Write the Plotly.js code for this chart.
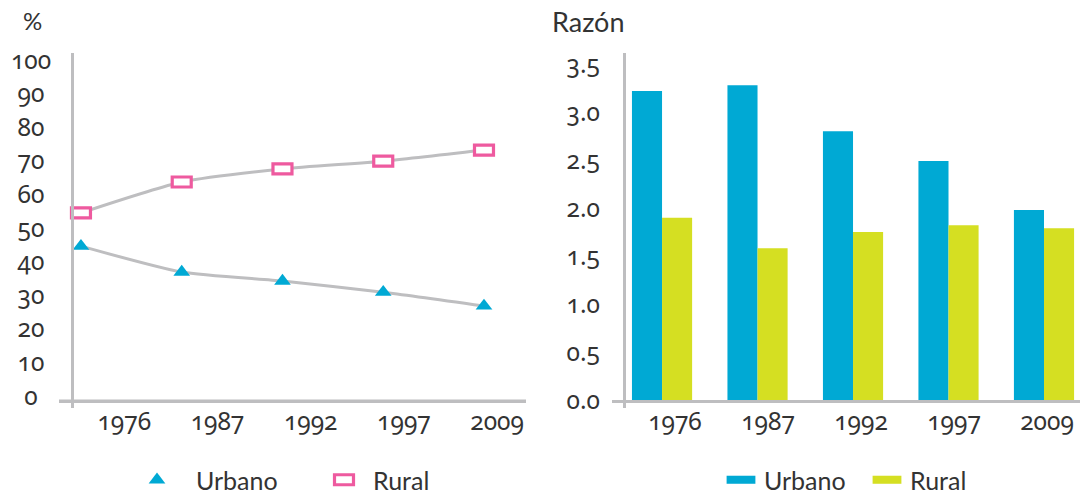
<!DOCTYPE html>
<html>
<head>
<meta charset="utf-8">
<script src="https://cdn.plot.ly/plotly-3.0.1.min.js"></script>
<style>
  html, body { margin: 0; padding: 0; background: #fff; }
  #chart { width: 1083px; height: 495px; }
  #chart text { font-variant-numeric: oldstyle-nums; font-feature-settings: "onum" 1; }
</style>
</head>
<body>
<div id="chart"></div>
<script>
// ---- data ----
const years = ['1976', '1987', '1992', '1997', '2009'];
const urbanoPct = [45.5, 37.8, 35.1, 31.8, 27.7];
const ruralPct = [55.4, 64.6, 68.5, 70.8, 74.1];
const urbanoRazon = [3.22, 3.28, 2.80, 2.49, 1.98];
const ruralRazon = [1.90, 1.58, 1.75, 1.82, 1.79];
const pctTicks = [0, 10, 20, 30, 40, 50, 60, 70, 80, 90, 100];
const razonTicks = [0, 0.5, 1.0, 1.5, 2.0, 2.5, 3.0, 3.5];
const seriesNames = ['Urbano', 'Rural'];

// ---- style ----
const FONT = 'Lato, "Open Sans", sans-serif';
const NUMFONT = '"Noto Sans", Lato, sans-serif';
const TXT = '#333333';
const GRAY = '#BEBEC0';
const CYAN = '#00A9D4';
const PINK = '#EE5A9F';
const LIME = '#D5DF22';

const W = 1083, H = 495;
const px = v => v / W;
const py = v => 1 - v / H;

const idx = years.map((_, i) => i);
const blank = years.map(() => null);

const traces = [
  { x: years, y: urbanoPct, xaxis: 'x', yaxis: 'y', mode: 'lines', showlegend: false,
    line: { color: GRAY, width: 3, shape: 'spline', smoothing: 0.6 }, hoverinfo: 'skip' },
  { x: years, y: ruralPct, xaxis: 'x', yaxis: 'y', mode: 'lines', showlegend: false,
    line: { color: GRAY, width: 3, shape: 'spline', smoothing: 0.6 }, hoverinfo: 'skip' },
  { x: years, y: urbanoPct, xaxis: 'x', yaxis: 'y', mode: 'markers', name: seriesNames[0],
    legend: 'legend', marker: { symbol: 'triangle-up', size: 14.5, color: CYAN } },
  { x: years, y: ruralPct, xaxis: 'x', yaxis: 'y', mode: 'markers', name: seriesNames[1], uid: 'ruralpts',
    legend: 'legend', marker: { symbol: 'square', size: 10, color: '#FFFFFF', line: { color: PINK, width: 3.2 } } },
  { type: 'bar', x: years, y: urbanoRazon, xaxis: 'x2', yaxis: 'y2', name: seriesNames[0],
    legend: 'legend2', marker: { color: CYAN } },
  { type: 'bar', x: years, y: ruralRazon, xaxis: 'x2', yaxis: 'y2', name: seriesNames[1],
    legend: 'legend2', marker: { color: LIME } },
  // empty carriers so the tick-label axes exist
  { x: idx, y: blank, xaxis: 'x3', yaxis: 'y', mode: 'markers', showlegend: false, hoverinfo: 'skip' },
  { x: idx, y: blank, xaxis: 'x4', yaxis: 'y2', mode: 'markers', showlegend: false, hoverinfo: 'skip' }
];

const axisLine = { showline: true, linecolor: GRAY, linewidth: 3, showgrid: false, zeroline: false, ticks: '' };
const tickFont = { family: NUMFONT, size: 24.5, color: TXT };

const layout = {
  width: W, height: H,
  margin: { l: 0, r: 0, t: 0, b: 0, autoexpand: false },
  paper_bgcolor: '#fff', plot_bgcolor: 'rgba(0,0,0,0)',
  font: { family: FONT, color: TXT },
  barmode: 'group', bargap: 0.37, bargroupgap: 0,
  // left chart
  xaxis: Object.assign({}, axisLine, { type: 'category', domain: [px(59), px(526)], range: [-0.218, 4.417],
    anchor: 'free', position: py(401), showticklabels: false }),
  yaxis: Object.assign({}, axisLine, { domain: [py(408), py(53)], range: [-2.68, 103.0],
    anchor: 'free', position: px(72), showticklabels: false }),
  xaxis3: { type: 'linear', overlaying: 'x', domain: [px(59), px(526)], range: [-0.70, 4.31],
    anchor: 'free', position: py(401), showline: false, showgrid: false, zeroline: false, ticks: '',
    tickvals: idx, ticktext: years, tickfont: tickFont, ticklabelstandoff: 3 },
  // right chart
  xaxis2: Object.assign({}, axisLine, { type: 'category', domain: [px(612), px(1080)], range: [-0.524, 4.377],
    anchor: 'free', position: py(401), showticklabels: false }),
  yaxis2: Object.assign({}, axisLine, { domain: [py(408), py(53)], range: [-0.083, 3.615],
    anchor: 'free', position: px(624), showticklabels: false }),
  xaxis4: { type: 'linear', overlaying: 'x2', domain: [px(612), px(1080)], range: [-0.677, 4.355],
    anchor: 'free', position: py(401), showline: false, showgrid: false, zeroline: false, ticks: '',
    tickvals: idx, ticktext: years, tickfont: tickFont, ticklabelstandoff: 3 },
  legend: { orientation: 'h', x: px(146), xanchor: 'left', y: py(480), yanchor: 'middle',
    font: { family: FONT, size: 25, color: TXT }, itemwidth: 40, entrywidth: 122, entrywidthmode: 'pixels',
    bgcolor: 'rgba(0,0,0,0)' },
  legend2: { orientation: 'h', x: px(718), xanchor: 'left', y: py(480), yanchor: 'middle',
    font: { family: FONT, size: 25, color: TXT }, itemwidth: 36, entrywidth: 95, entrywidthmode: 'pixels',
    bgcolor: 'rgba(0,0,0,0)' },
  // left x-axis baseline (axis decoration)
  shapes: [
    { type: 'line', xref: 'paper', yref: 'paper', x0: px(59), x1: px(526), y0: py(401), y1: py(401),
      line: { color: GRAY, width: 3 }, layer: 'below' }
  ],
  annotations: [
    { text: '%', xref: 'paper', yref: 'paper', x: px(32), y: py(20), xanchor: 'center', yanchor: 'middle',
      showarrow: false, font: { family: FONT, size: 24, color: TXT } },
    { text: 'Razón', xref: 'paper', yref: 'paper', x: px(550), y: py(21), xanchor: 'left', yanchor: 'middle',
      showarrow: false, font: { family: FONT, size: 27, color: TXT } }
  ].concat(pctTicks.map(v => ({
      text: String(v), xref: 'paper', yref: 'y', x: px(31), y: v, xanchor: 'center', yanchor: 'middle',
      yshift: 4, showarrow: false, font: tickFont
  }))).concat(razonTicks.map(v => ({
      text: v.toFixed(1), xref: 'paper', yref: 'y2', x: px(583), y: v, xanchor: 'center', yanchor: 'middle',
      yshift: 1, showarrow: false, font: tickFont
  })))
};

Plotly.newPlot('chart', traces, layout, { displayModeBar: false, staticPlot: true }).then(gd => {
  // stretch the Rural markers into wide rectangles, as in the original
  gd.querySelectorAll('.traceruralpts path.point').forEach(p => {
    const t = p.getAttribute('transform') || '';
    p.setAttribute('transform', t + ' scale(1.9,1)');
    p.style.vectorEffect = 'non-scaling-stroke';
  });
  gd.querySelectorAll('.legend g.traces').forEach(g => {
    const label = g.querySelector('.legendtext');
    const isRural = label && label.textContent === seriesNames[1];
    g.querySelectorAll('g.legendpoints').forEach(lp => lp.setAttribute('transform', isRural ? 'translate(-4,0)' : 'translate(-14,0)'));
    if (isRural) {
      g.querySelectorAll('path.scatterpts').forEach(p => {
        p.setAttribute('transform', (p.getAttribute('transform') || '') + ' scale(1.9,1)');
        p.style.vectorEffect = 'non-scaling-stroke';
      });
    }
  });
  gd.querySelectorAll('.legend2 g.traces path.legendbar, .legend2 g.traces path.legendundefined').forEach(p => {
    p.setAttribute('transform', (p.getAttribute('transform') || '') + ' scale(2.4,0.67)');
  });
});
</script>
</body>
</html>
